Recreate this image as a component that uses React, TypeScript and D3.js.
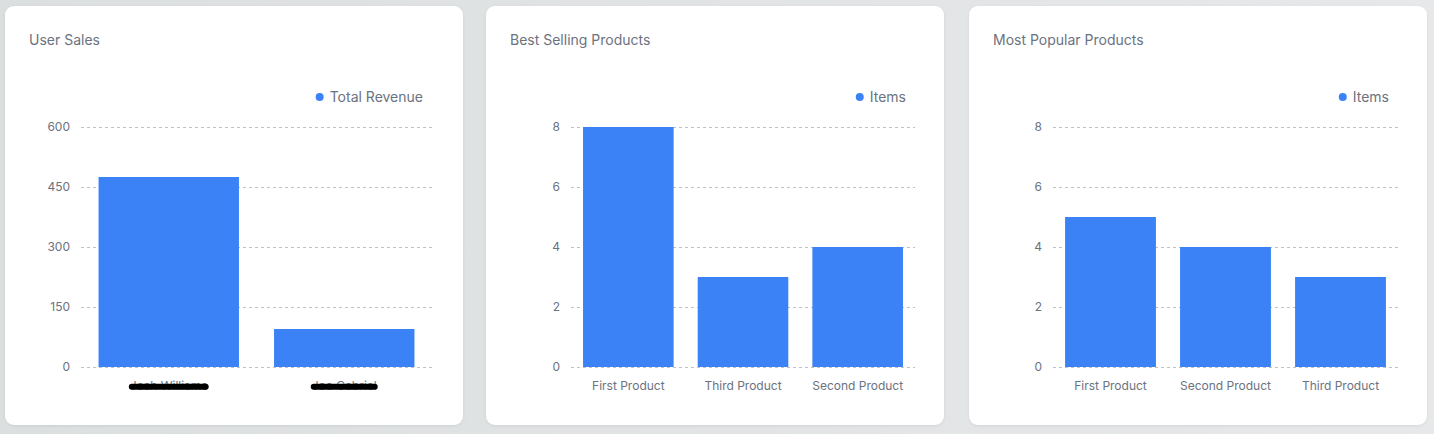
import React, { useEffect, useRef } from "react";
import * as d3 from "d3";

// chart data
const salesNames = ["Josh Williams", "Joe Gabriel"];
const salesRevenue = [475, 95];
const salesTicks = [0, 150, 300, 450, 600];

const bestNames = ["First Product", "Third Product", "Second Product"];
const bestItems = [8, 3, 4];
const popularNames = ["First Product", "Second Product", "Third Product"];
const popularItems = [5, 4, 3];
const itemTicks = [0, 2, 4, 6, 8];

const BLUE = "#3b82f6";
const TEXT = "#6b7280";
const FONT = "Inter, 'Noto Sans', sans-serif";

const cards = [
  { x: 5, title: "User Sales", legend: "Total Revenue", names: salesNames, values: salesRevenue, ticks: salesTicks, left: 76, right: 427, pad: 0.2, redact: true },
  { x: 486, title: "Best Selling Products", legend: "Items", names: bestNames, values: bestItems, ticks: itemTicks, left: 85, right: 429, pad: 0.21, redact: false },
  { x: 969, title: "Most Popular Products", legend: "Items", names: popularNames, values: popularItems, ticks: itemTicks, left: 84, right: 429, pad: 0.21, redact: false },
];

const W = 1434;
const H = 434;
const cardW = 458;
const cardTop = 6;
const cardH = 419;

const App = () => {
  const ref = useRef<SVGSVGElement>(null);

  useEffect(() => {
    const svg = d3.select(ref.current);
    svg.selectAll("*").remove();

    const defs = svg.append("defs");
    const grad = defs.append("linearGradient").attr("id", "bg").attr("x1", 0).attr("x2", 1);
    grad.append("stop").attr("offset", 0).attr("stop-color", "#dcdfe0");
    grad.append("stop").attr("offset", 1).attr("stop-color", "#e6e8e9");
    const f = defs.append("filter").attr("id", "sh").attr("x", -0.05).attr("y", -0.05).attr("width", 1.1).attr("height", 1.1);
    f.append("feDropShadow").attr("dx", 0).attr("dy", 1).attr("stdDeviation", 1.5).attr("flood-color", "#000").attr("flood-opacity", 0.08);

    svg.append("rect").attr("width", W).attr("height", H).attr("fill", "url(#bg)");

    cards.forEach(c => {
      const g = svg.append("g").attr("transform", `translate(${c.x},${cardTop})`);
      g.append("rect")
        .attr("width", cardW)
        .attr("height", cardH)
        .attr("rx", 9)
        .attr("fill", "#fff")
        .attr("filter", "url(#sh)");

      g.append("text")
        .attr("x", 24)
        .attr("y", 39)
        .attr("fill", TEXT)
        .attr("font-family", FONT)
        .attr("font-size", 14)
        .text(c.title);

      const right = c.right;
      const x = d3.scaleBand<string>().domain(c.names).range([c.left, right]).paddingInner(c.pad).paddingOuter(c.pad / 2);
      const y = d3.scaleLinear().domain([0, c.ticks[c.ticks.length - 1]]).range([361, 121]);

      // legend
      const lg = g.append("text")
        .attr("x", right - 9)
        .attr("y", 96)
        .attr("text-anchor", "end")
        .attr("fill", TEXT)
        .attr("font-family", FONT)
        .attr("font-size", 14)
        .text(c.legend);
      const tw = (lg.node() as SVGTextElement).getComputedTextLength();
      g.append("circle").attr("cx", right - 9 - tw - 10).attr("cy", 91).attr("r", 4).attr("fill", BLUE);

      // grid + y axis
      g.append("g")
        .attr("transform", `translate(${c.left},0)`)
        .call(d3.axisLeft(y).tickValues(c.ticks).tickSize(-(right - c.left)).tickPadding(11))
        .call(a => a.select(".domain").remove())
        .call(a => a.selectAll("line").attr("stroke", "#bfc1c6").attr("stroke-dasharray", "3,3"))
        .call(a => a.selectAll("text").attr("fill", TEXT).attr("font-family", FONT).attr("font-size", 12));

      // bars
      g.selectAll("rect.bar")
        .data(c.values)
        .join("rect")
        .attr("class", "bar")
        .attr("x", (d, i) => x(c.names[i])!)
        .attr("width", x.bandwidth())
        .attr("y", d => y(d))
        .attr("height", d => y(0) - y(d))
        .attr("fill", BLUE);

      // x labels
      const xl = g.append("g")
        .attr("transform", "translate(0,361)")
        .call(d3.axisBottom(x).tickSize(0).tickPadding(14))
        .call(a => a.select(".domain").remove())
        .call(a => a.selectAll("text").attr("fill", TEXT).attr("font-family", FONT).attr("font-size", 12));

      if (c.redact) {
        xl.selectAll<SVGGElement, string>(".tick").each(function () {
          const t = d3.select(this).select("text").node() as SVGTextElement;
          const b = t.getBBox();
          d3.select(this)
            .append("line")
            .attr("x1", b.x + 2)
            .attr("x2", b.x + b.width - 2)
            .attr("y1", b.y + b.height * 0.62)
            .attr("y2", b.y + b.height * 0.62)
            .attr("stroke", "#000")
            .attr("stroke-width", 6)
            .attr("stroke-linecap", "round");
        });
      }
    });
  }, []);

  return (
    <div style={{ position: "absolute", left: 0, top: 0 }}>
      <svg ref={ref} width={W} height={H} style={{ display: "block" }} />
    </div>
  );
};

export default App;
